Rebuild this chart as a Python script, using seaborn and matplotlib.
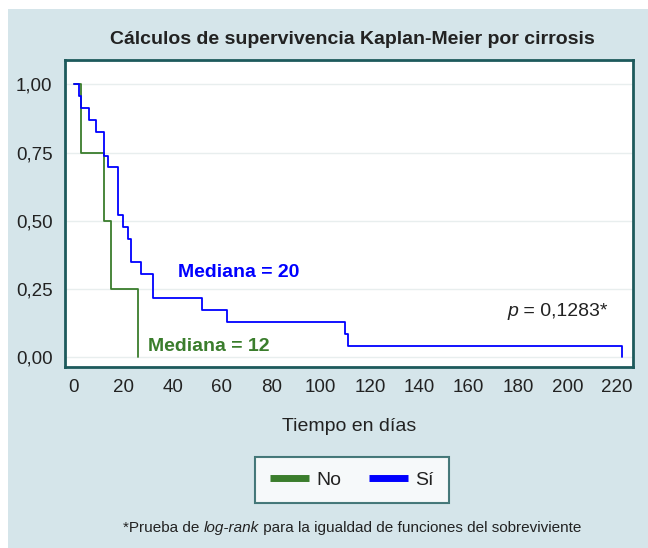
import pandas as pd
import matplotlib.pyplot as plt
import matplotlib.patches as mpatches
from matplotlib.lines import Line2D
import seaborn as sns

# Kaplan-Meier steps
si_days = [0, 2, 3, 6, 9, 12, 14, 18, 20, 22, 23, 27, 32, 52, 62, 110, 111, 222]
si_surv = [1.0, 0.957, 0.913, 0.870, 0.826, 0.739, 0.696, 0.522, 0.478, 0.435,
           0.348, 0.304, 0.217, 0.174, 0.130, 0.087, 0.043, 0.0]
no_days = [0, 3, 12, 15, 26]
no_surv = [1.0, 0.75, 0.50, 0.25, 0.0]

groups = ["No", "Sí"]
x_ticks = list(range(0, 221, 20))
y_ticks = [0.0, 0.25, 0.5, 0.75, 1.0]
y_labels = ["0,00", "0,25", "0,50", "0,75", "1,00"]

df = pd.concat([
    pd.DataFrame({"dias": no_days, "surv": no_surv, "cirrosis": "No"}),
    pd.DataFrame({"dias": si_days, "surv": si_surv, "cirrosis": "Sí"}),
])

sns.set_style("white")
plt.rcParams["font.family"] = ["Liberation Sans Narrow", "Liberation Sans", "DejaVu Sans"]

BG = "#d5e5ea"
FRAME = "#1d5a5c"
GREEN = "#3a7d2c"
BLUE = "#0000ff"
TXT = "#222222"

W, H = 648, 548
fig = plt.figure(figsize=(W / 100, H / 100), dpi=100, facecolor="white")
fig.patches.append(mpatches.Rectangle((8 / W, 0), 1, (H - 9) / H, transform=fig.transFigure,
                                      facecolor=BG, edgecolor="none", zorder=-10))

ax = fig.add_axes([65 / W, (H - 366.7) / H, (632.7 - 65) / W, (366.7 - 59.5) / H])
ax.set_facecolor("white")

sns.lineplot(data=df, x="dias", y="surv", hue="cirrosis", hue_order=groups,
             palette={"No": GREEN, "Sí": BLUE}, drawstyle="steps-post",
             estimator=None, linewidth=1.3, legend=False, ax=ax)

ax.set_xlim(-3.6, 226.4)
ax.set_ylim(-0.034, 1.091)
ax.set_xticks(x_ticks)
ax.set_yticks(y_ticks)
ax.set_yticklabels(y_labels)
ax.grid(axis="y", color="#e8eeee", linewidth=1)
ax.set_axisbelow(True)
for s in ax.spines.values():
    s.set_color(FRAME)
    s.set_linewidth(2)
ax.tick_params(axis="both", direction="out", length=6, width=2, color=FRAME,
               labelsize=13.5, labelcolor=TXT, pad=3)
ax.set_xlabel("Tiempo en días", fontsize=14, color=TXT, labelpad=16)
ax.set_ylabel("")

ax.text(42, 0.31, "Mediana = 20", color=BLUE, fontsize=14, fontweight="bold", va="center")
ax.text(30, 0.04, "Mediana = 12", color=GREEN, fontsize=14, fontweight="bold", va="center")

fig.text(352 / W, (H - 40) / H, "Cálculos de supervivencia Kaplan-Meier por cirrosis",
         ha="center", va="center", fontsize=14, fontweight="bold", color=TXT)

renderer = fig.canvas.get_renderer()


def mixed_text(x_px, y_px, parts, size, ha="center"):
    # parts: list of (text, style); laid out left to right
    objs = []
    for txt, style in parts:
        objs.append(fig.text(0, y_px / H, txt, fontsize=size, style=style,
                             color=TXT, va="center"))
    widths = [o.get_window_extent(renderer).width for o in objs]
    total = sum(widths)
    start = x_px - total / 2 if ha == "center" else x_px - total
    for o, w in zip(objs, widths):
        o.set_x(start / W)
        start += w


mixed_text(608, H - 311, [("p", "italic"), (" = 0,1283*", "normal")], 14, ha="right")
mixed_text(352, H - 528, [("*Prueba de ", "normal"), ("log-rank", "italic"),
                          (" para la igualdad de funciones del sobreviviente", "normal")], 11)

handles = [Line2D([], [], color=GREEN, linewidth=5, solid_capstyle="butt"),
           Line2D([], [], color=BLUE, linewidth=5, solid_capstyle="butt")]
leg = fig.legend(handles, groups, loc="center", bbox_to_anchor=(352 / W, (H - 480) / H),
                 ncol=2, fontsize=14, frameon=True, fancybox=False, handlelength=2.0,
                 columnspacing=1.4, borderpad=0.75, handletextpad=0.4)
leg.get_frame().set_edgecolor(FRAME)
leg.get_frame().set_linewidth(1.5)
leg.get_frame().set_facecolor("white")
for t in leg.get_texts():
    t.set_color(TXT)

fig.savefig("out.png", dpi=100, facecolor=fig.get_facecolor())
